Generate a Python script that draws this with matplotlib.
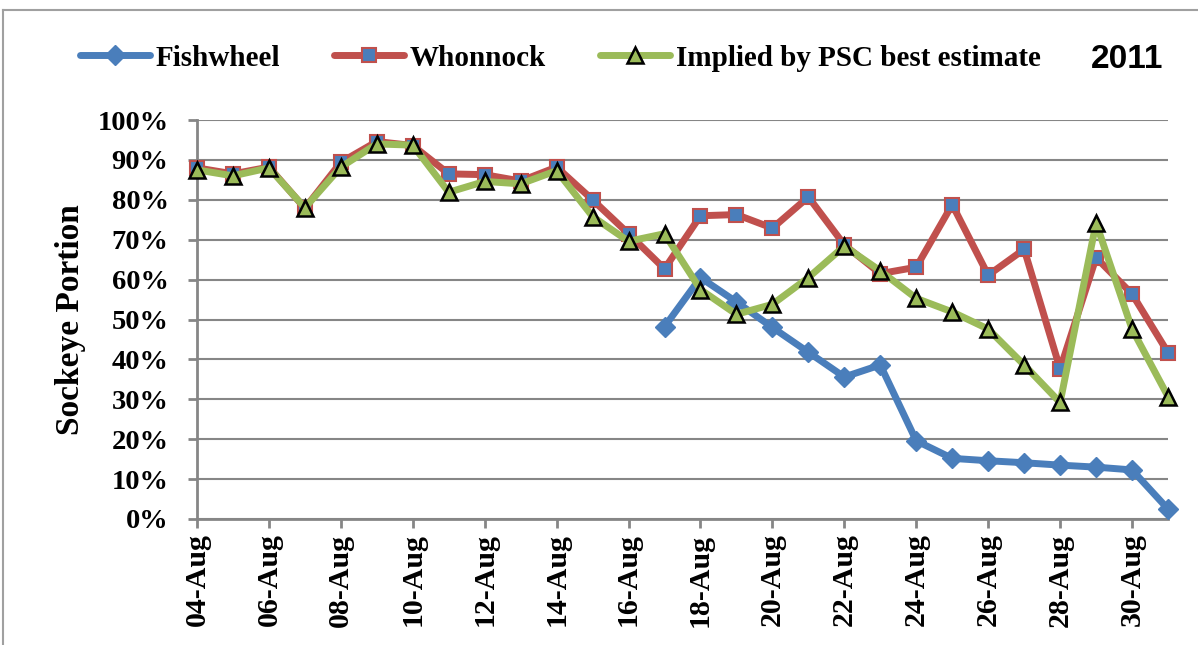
import matplotlib
matplotlib.use("Agg")
import matplotlib.pyplot as plt
from matplotlib.lines import Line2D

days = list(range(4, 32))
tick_days = list(range(4, 31, 2))
tick_labels = [f"{d:02d}-Aug" for d in tick_days]

fishwheel_days = list(range(17, 32))
fishwheel = [48.2, 60.5, 54.4, 48.0, 41.8, 35.6, 38.6, 19.6, 15.2, 14.6, 14.1, 13.5, 13.0, 12.3, 2.5]

whonnock = [88.0, 86.5, 88.2, 77.9, 89.4, 94.6, 93.6, 86.5, 86.3, 84.7, 88.2,
            80.0, 71.5, 62.7, 76.0, 76.3, 72.9, 80.7, 68.7, 61.5, 63.1,
            78.8, 61.1, 67.6, 37.6, 65.5, 56.4, 41.7]

implied = [87.5, 86.0, 88.0, 78.0, 88.2, 94.0, 93.7, 81.9, 84.6, 84.0, 87.3,
           75.8, 69.6, 71.5, 57.5, 51.3, 53.8, 60.5, 68.4, 62.2, 55.3,
           51.9, 47.6, 38.6, 29.2, 74.2, 47.6, 30.7]

yticks = list(range(0, 101, 10))
ytick_labels = [f"{v}%" for v in yticks]

BLUE = "#4A7EBB"
RED = "#C0504D"
GREEN = "#9BBB59"
GRID = "#868686"
SERIF = ["Liberation Serif", "DejaVu Serif"]

fig = plt.figure(figsize=(11.98, 6.45), dpi=100)
ax = fig.add_axes([197/1198, 1-519/645, (1168-197)/1198, (519-120)/645])

ax.plot(fishwheel_days, fishwheel, color=BLUE, lw=5, marker="D", ms=10,
        mfc=BLUE, mec=BLUE, solid_capstyle="round", solid_joinstyle="round", zorder=3,
        label="Fishwheel", clip_on=False)
ax.plot(days, whonnock, color=RED, lw=5, marker="s", ms=10,
        mfc=BLUE, mec=RED, mew=1.5, solid_capstyle="round", solid_joinstyle="round",
        zorder=4, label="Whonnock", clip_on=False)
ax.plot(days, implied, color=GREEN, lw=5, marker="^", ms=11,
        mfc=GREEN, mec="black", mew=1.8, solid_capstyle="round", solid_joinstyle="round",
        zorder=5, label="Implied by PSC best estimate", clip_on=False)

ax.set_xlim(4, 31)
ax.set_ylim(0, 100)
ax.set_yticks(yticks)
ax.set_yticklabels(ytick_labels, fontfamily=SERIF, fontweight="bold", fontsize=20.5)
ax.set_xticks(tick_days)
ax.set_xticklabels(tick_labels, rotation=90, fontfamily=SERIF, fontweight="bold", fontsize=21.5)

ax.yaxis.grid(True, color=GRID, lw=1.5)
ax.set_axisbelow(True)
for s in ["top", "right"]:
    ax.spines[s].set_visible(False)
for s in ["left", "bottom"]:
    ax.spines[s].set_color(GRID)
    ax.spines[s].set_linewidth(2)
ax.tick_params(axis="both", color=GRID, width=2, length=6.5)
ax.tick_params(axis="y", direction="out", pad=14)
ax.tick_params(axis="x", direction="out", pad=4)

ax.set_ylabel("Sockeye Portion", fontfamily=SERIF, fontweight="bold", fontsize=24, labelpad=8)

handles, labels = ax.get_legend_handles_labels()
fig.legend(handles, labels, loc="center left", bbox_to_anchor=(80/1198, 1-58/645),
           ncol=3, frameon=False, prop={"family": SERIF, "weight": "bold", "size": 21},
           handlelength=2.4, handletextpad=0.2, columnspacing=1.85, borderpad=0,
           borderaxespad=0)

fig.text(1127/1198, 1-60/645, "2011", ha="center", va="center",
         fontfamily=["Liberation Sans", "DejaVu Sans"], fontweight="bold", fontsize=24)

fig.add_artist(Line2D([3/1198, 1.0], [1-10/645, 1-10/645], color="#A0A0A0", lw=1.5,
                      transform=fig.transFigure))
fig.add_artist(Line2D([3/1198, 3/1198], [0, 1-10/645], color="#A0A0A0", lw=1.5,
                      transform=fig.transFigure))

fig.savefig("out.png", dpi=100)
